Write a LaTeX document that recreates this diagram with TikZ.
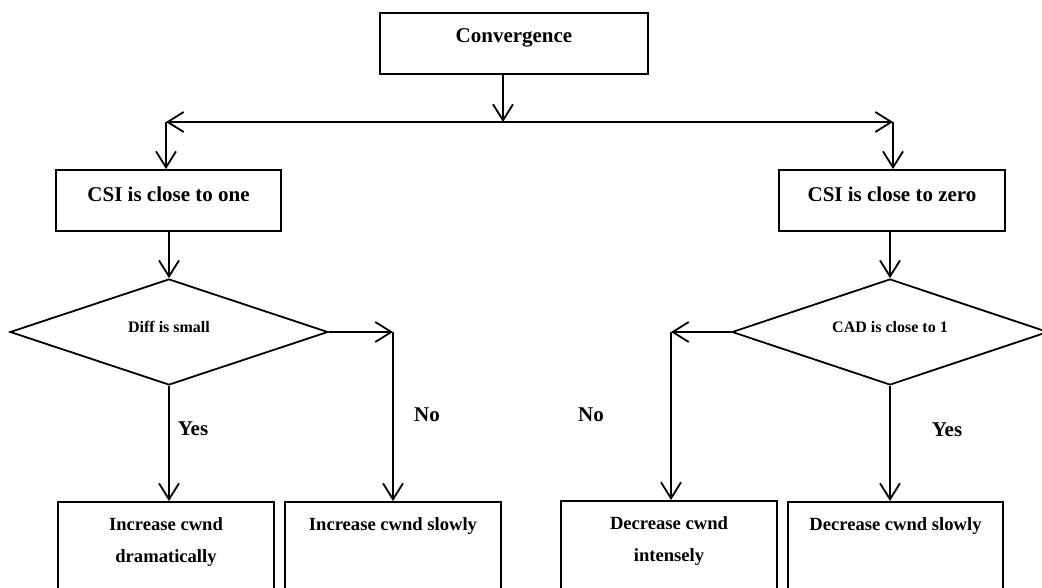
\documentclass[tikz,border=0pt]{standalone}
\usepackage{fontspec}
\setmainfont{Liberation Serif}
\usetikzlibrary{arrows.meta,shapes.geometric}
\begin{document}
\begin{tikzpicture}[x=1pt,y=-1pt,
  flow/.style={draw=black,line width=1.8pt,-{Straight Barb[length=16pt,width=20pt]}},
  topbox/.style={draw=black,rectangle,line width=1.8pt,inner sep=0pt,minimum height=61pt,
    font=\fontsize{21}{25}\selectfont\bfseries,text height=14pt},
  decision/.style={draw=black,diamond,aspect=3,line width=1.8pt,inner sep=0pt,
    minimum height=106pt,font=\fontsize{16}{19}\selectfont\bfseries,text height=11pt,text depth=10pt},
  leaf/.style={draw=black,rectangle,line width=1.8pt,inner sep=0pt,minimum height=110pt,
    anchor=north,align=center,font=\fontsize{18.6}{32}\selectfont\bfseries},
  oneline/.style={text height=13pt,text depth=65pt},
  twoline/.style={text height=45pt,text depth=33pt},
  answer/.style={inner sep=0pt,font=\fontsize{21}{25}\selectfont\bfseries}]
\useasboundingbox (0,0) rectangle (1042,588);
\begin{scope}
\clip (0,0) rectangle (1042,588);
% top boxes
\node[topbox,minimum width=268pt,text depth=15pt] (conv) at (514,43.5) {Convergence};
\node[topbox,minimum width=225pt,text depth=11pt] (one) at (168.5,200.5) {CSI is close to one};
\node[topbox,minimum width=226pt,text depth=11pt] (zero) at (892,200.5) {CSI is close to zero};
% decisions
\node[decision,minimum width=318pt] (d1) at (169,332) {Diff is small};
\node[decision,minimum width=316pt] (d2) at (890,332) {CAD is close to 1};
% leaves
\node[leaf,twoline,minimum width=216pt] (dram) at (166,501) {Increase cwnd\\dramatically};
\node[leaf,oneline,minimum width=216pt] (slow1) at (393,501) {Increase cwnd slowly};
\node[leaf,twoline,minimum width=216pt] (intense) at (669,500) {Decrease cwnd\\intensely};
\node[leaf,oneline,minimum width=215pt] (dslow) at (895.5,501) {Decrease cwnd slowly};
% labels
\node[answer] (yes1) at (193,429) {Yes};
\node[answer] (no1) at (427,415) {No};
\node[answer] (no2) at (591,415) {No};
\node[answer] (yes2) at (947,430) {Yes};
% junction points
\coordinate (hub) at (503,122);
\coordinate (lc) at (166,122);
\coordinate (rc) at (893,122);
\coordinate (n1) at (393,332);
\coordinate (n2) at (671,332);
% connectors
\draw[flow] (conv.south -| hub) -- (hub);
\draw[flow] (hub) -- (lc);
\draw[flow] (hub) -- (rc);
\draw[flow] (lc) -- (lc |- one.north);
\draw[flow] (rc) -- (rc |- zero.north);
\draw[flow] (d1.north |- one.south) -- (d1.north);
\draw[flow] (d2.north |- zero.south) -- (d2.north);
\draw[flow] (d1.east) -- (n1);
\draw[flow] (n1) -- (n1 |- slow1.north);
\draw[flow] (d1.south) -- (d1.south |- dram.north);
\draw[flow] (d2.west) -- (n2);
\draw[flow] (n2) -- (n2 |- intense.north);
\draw[flow] (d2.south) -- (d2.south |- dslow.north);
\end{scope}
\end{tikzpicture}
\end{document}
